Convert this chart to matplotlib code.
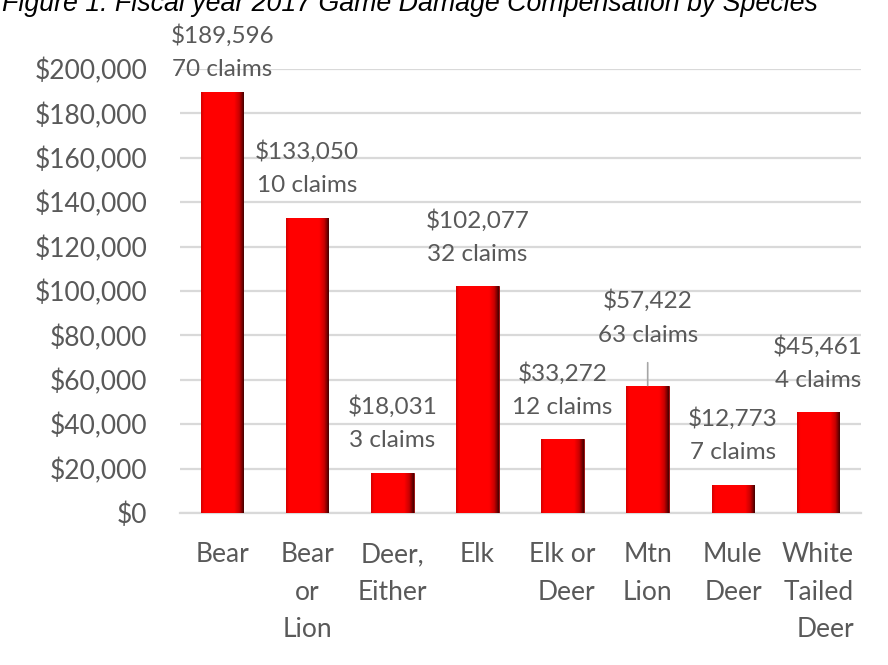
import matplotlib.pyplot as plt
import numpy as np
from matplotlib.colors import LinearSegmentedColormap
from matplotlib.ticker import FuncFormatter

plt.rcParams['font.family'] = ['Lato', 'DejaVu Sans']

# data
species = ['Bear', 'Bear\nor\nLion', 'Deer,\nEither', 'Elk', 'Elk or\nDeer',
           'Mtn\nLion', 'Mule\nDeer', 'White\nTailed\nDeer']
compensation = [189596, 133050, 18031, 102077, 33272, 57422, 12773, 45461]
claims = [70, 10, 3, 32, 12, 63, 7, 4]
y_ticks = list(range(0, 200001, 20000))

# label tweaks (pixels above bar top: amount line, claims line)
label_offsets = {0: (57, 23), 5: (85, 50)}
default_offset = (66, 32)
right_aligned = {4, 6, 7}

text_grey = '#595959'
W, H = 888, 665
fig = plt.figure(figsize=(W / 100, H / 100), dpi=100)
ax = fig.add_axes([179.5 / W, 1 - 513 / H, 681 / W, 444 / H])

x = np.arange(len(species))
bars = ax.bar(x, compensation, width=0.5, color='#ff0000',
              edgecolor='#8a0000', linewidth=0.6, zorder=3)

# bevel-ish horizontal shading on each bar
shade = LinearSegmentedColormap.from_list(
    'shade', [(0.0, '#d40000'), (0.07, '#ff0000'), (0.78, '#ff0000'),
              (0.9, '#c80000'), (1.0, '#4a0000')])
grad = np.linspace(0, 1, 64).reshape(1, -1)
for b in bars:
    im = ax.imshow(grad, cmap=shade, aspect='auto', zorder=4,
                   extent=[b.get_x(), b.get_x() + b.get_width(), 0, b.get_height()])
    im.set_clip_path(b)

ax.set_xlim(-0.5, len(species) - 0.5)
ax.set_ylim(0, 200000)
ax.set_yticks(y_ticks)
ax.yaxis.set_major_formatter(FuncFormatter(lambda v, p: f'${v:,.0f}'))
ax.grid(axis='y', color='#d9d9d9', linewidth=1.6, zorder=0)
ax.set_axisbelow(True)
for s in ['top', 'right', 'left']:
    ax.spines[s].set_visible(False)
ax.spines['bottom'].set_color('#d9d9d9')
ax.spines['bottom'].set_linewidth(1.6)
ax.tick_params(axis='y', length=0, pad=23, labelsize=19, labelcolor=text_grey)
ax.tick_params(axis='x', length=0, pad=21, labelsize=19, labelcolor=text_grey)
ax.set_xticks(x, species)
for i, lab in enumerate(ax.get_xticklabels()):
    lab.set_linespacing(1.62)
    lab.set_multialignment('right' if i in right_aligned else 'center')

# data labels
for i, (v, n) in enumerate(zip(compensation, claims)):
    off1, off2 = label_offsets.get(i, default_offset)
    ax.annotate(f'${v:,}', xy=(i, v), xytext=(0, off1), textcoords='offset pixels',
                ha='center', va='center', fontsize=17.5, color=text_grey,
                annotation_clip=False, zorder=5)
    if i == 5:
        arrow = dict(arrowstyle='-', color='#a6a6a6', lw=1.2,
                     shrinkA=10, shrinkB=0)
    else:
        arrow = None
    ax.annotate(f'{n} claims', xy=(i, v), xytext=(0, off2), textcoords='offset pixels',
                ha='center', va='center', fontsize=17.5, color=text_grey,
                annotation_clip=False, arrowprops=arrow, zorder=5)

# title, cut off at the top of the image as in the source
fig.text(2 / W, 1 - 11 / H, 'Figure 1: Fiscal year 2017 Game Damage Compensation by Species',
         ha='left', va='baseline', fontsize=19.3, fontstyle='italic',
         family=['Liberation Sans', 'DejaVu Sans'], color='black')

fig.savefig('out.png', dpi=100)
